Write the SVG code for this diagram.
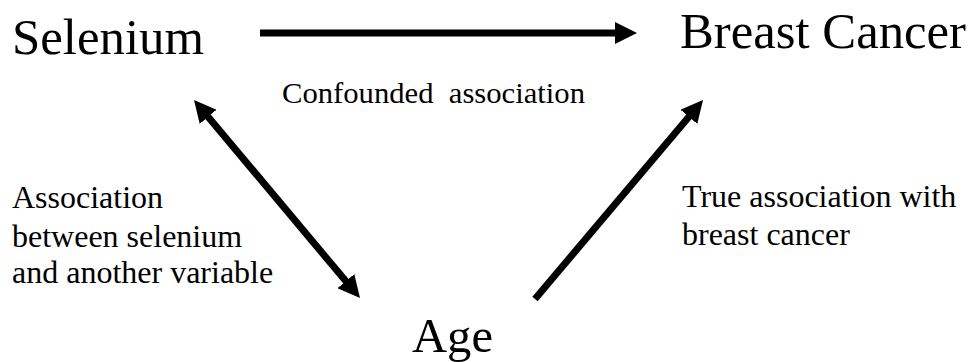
<svg xmlns="http://www.w3.org/2000/svg" width="974" height="362" viewBox="0 0 974 362">
<style>
text { font-family: "Liberation Serif", "Times New Roman", serif; fill: #000; }
.title { font-size: 51px; }
.label { font-size: 32px; }
.conn { stroke: #000; stroke-width: 7; fill: none; }
</style>
<defs>
<marker id="head" viewBox="0 0 22 22" refX="8" refY="11" markerWidth="22" markerHeight="22" markerUnits="userSpaceOnUse" orient="auto-start-reverse">
<path d="M0,0 L22,11 L0,22 z" fill="#000"/>
</marker>
</defs>
<rect width="974" height="362" fill="#fff"/>
<g id="selenium"><text class="title" x="12" y="54" textLength="192" lengthAdjust="spacingAndGlyphs">Selenium</text></g>
<g id="breast-cancer"><text class="title" x="680" y="48" textLength="286" lengthAdjust="spacingAndGlyphs">Breast Cancer</text></g>
<g id="age"><text class="title" x="412" y="352" textLength="81" lengthAdjust="spacingAndGlyphs" style="font-size:48px">Age</text></g>
<g id="connectors">
<line class="conn" x1="260" y1="33" x2="623" y2="33" marker-end="url(#head)"/>
<line class="conn" x1="203" y1="110.7" x2="351" y2="287.3" marker-start="url(#head)" marker-end="url(#head)"/>
<line class="conn" x1="535" y1="299" x2="694" y2="110.7" marker-end="url(#head)"/>
</g>
<g id="labels">
<text style="font-size:30px; white-space:pre" x="282" y="103" textLength="303" lengthAdjust="spacingAndGlyphs" xml:space="preserve">Confounded  association</text>
<text class="label" x="12" y="208">Association</text>
<text class="label" x="12" y="247">between selenium</text>
<text class="label" x="12" y="283">and another variable</text>
<text class="label" x="682" y="207">True association with</text>
<text class="label" x="682" y="245">breast cancer</text>
</g>
</svg>
